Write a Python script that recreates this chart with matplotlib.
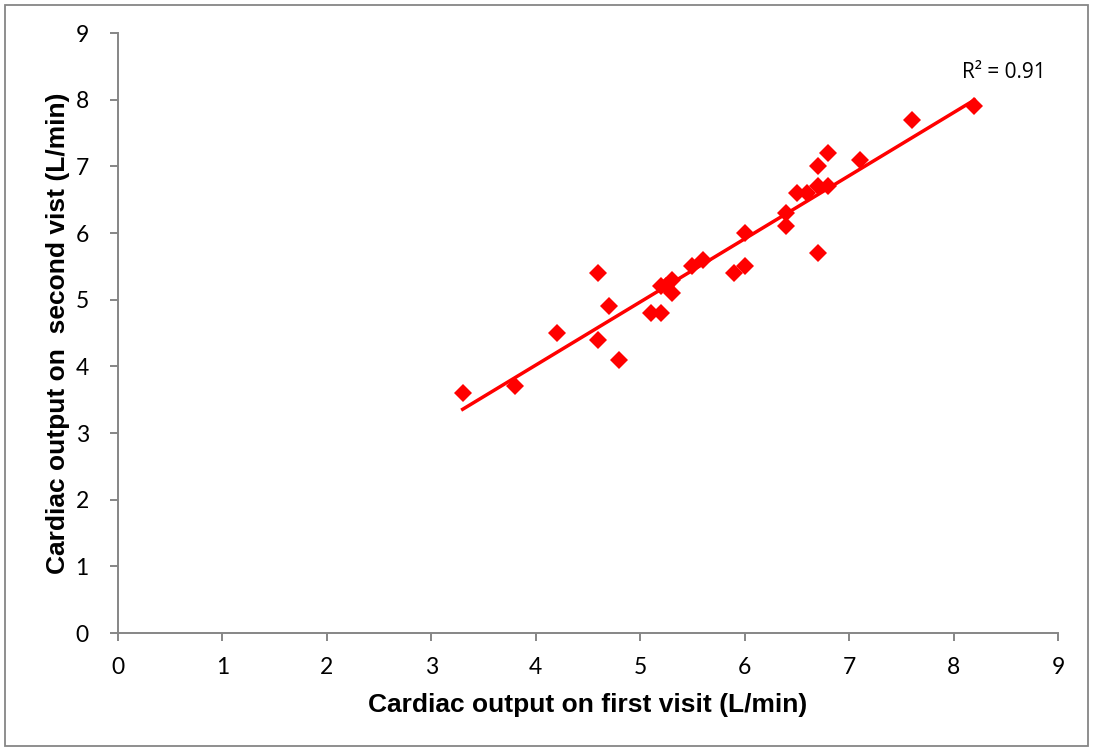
import matplotlib.pyplot as plt
from matplotlib.patches import Rectangle
import numpy as np

# Cardiac output, first visit vs second visit (L/min)
primeira_visita = [3.3, 3.8, 4.2, 4.6, 4.6, 4.7, 4.8, 5.1, 5.2, 5.2, 5.25, 5.3, 5.3,
                   5.5, 5.6, 5.9, 6.0, 6.0, 6.4, 6.4, 6.5, 6.6, 6.7, 6.8, 6.7, 6.8,
                   6.7, 7.1, 7.6, 8.2]
segunda_visita = [3.6, 3.7, 4.5, 5.4, 4.4, 4.9, 4.1, 4.8, 4.8, 5.2, 5.2, 5.3, 5.1,
                  5.5, 5.6, 5.4, 5.5, 6.0, 6.3, 6.1, 6.6, 6.6, 6.7, 6.7, 7.0, 7.2,
                  5.7, 7.1, 7.7, 7.9]
ticks = list(range(0, 10))
texto_r2 = "R² = 0.91"

fig = plt.figure(figsize=(10.93, 7.51), dpi=100)
ax = fig.add_axes([118 / 1093, 118 / 751, 940 / 1093, 600 / 751])

cinza = '#868686'
fonte = 'Lato'
fonte_titulo = 'Liberation Sans'

# pontos
ax.plot(primeira_visita, segunda_visita, 'D', color='#ff0000', markersize=9.5,
        markeredgewidth=0, zorder=3)

# linha de tendencia
a, b = np.polyfit(primeira_visita, segunda_visita, 1)
xs = np.array([min(primeira_visita), max(primeira_visita)])
ax.plot(xs, a * xs + b, color='#ff0000', linewidth=2.5, zorder=2)

ax.text(8.08, 8.4, texto_r2, fontsize=15, family='Open Sans', va='center',
        ha='left')

ax.set_xlim(0, 9)
ax.set_ylim(0, 9)
ax.set_xticks(ticks)
ax.set_yticks(ticks)
for s in ['top', 'right']:
    ax.spines[s].set_visible(False)
for s in ['left', 'bottom']:
    ax.spines[s].set_color(cinza)
    ax.spines[s].set_linewidth(1.4)
ax.tick_params(direction='out', length=6, width=1.4, color=cinza,
               labelsize=16.5)
ax.tick_params(axis='x', pad=11)
ax.tick_params(axis='y', pad=15)
for lbl in ax.get_xticklabels() + ax.get_yticklabels():
    lbl.set_family(fonte)

ax.set_xlabel('Cardiac output on first visit (L/min)', fontsize=19,
              fontweight='bold', family=fonte_titulo, labelpad=11)
ax.set_ylabel('Cardiac output on  second vist (L/min)', fontsize=19,
              fontweight='bold', family=fonte_titulo, labelpad=4)

# borda do grafico
fig.patches.append(Rectangle((5 / 1093, 5 / 751), 1083 / 1093, 741 / 751,
                             transform=fig.transFigure, fill=False,
                             edgecolor=cinza, linewidth=1.3))

fig.savefig('out.png', dpi=100)
